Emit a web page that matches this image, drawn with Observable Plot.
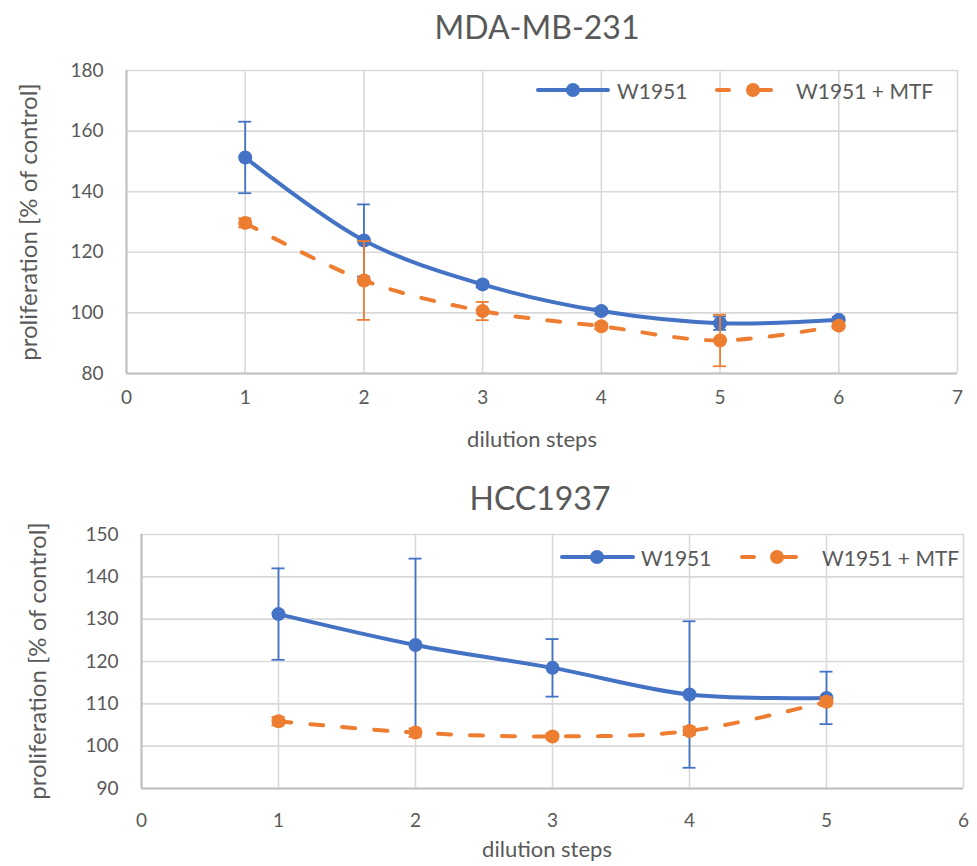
<!DOCTYPE html>
<html>
<head>
<meta charset="utf-8">
<script src="https://cdn.jsdelivr.net/npm/d3@7"></script>
<script src="https://cdn.jsdelivr.net/npm/@observablehq/plot@0.6"></script>
<style>
  html, body { margin: 0; padding: 0; background: #fff; }
  #page { position: relative; width: 977px; height: 866px; font-family: Lato, "Open Sans", sans-serif; color: #595959; overflow: hidden; }
  .abs { position: absolute; line-height: 1; white-space: nowrap; }
  .title { font-size: 32px; transform: translate(-50%, -50%); }
  .xlab { font-size: 22px; transform: translate(-50%, -50%); }
  .ylab { font-size: 24px; transform: translate(-50%, -50%) rotate(-90deg); }
  .legend { font-size: 21px; display: flex; align-items: center; }
  .chart { position: absolute; left: 0; }
</style>
</head>
<body>
<div id="page"></div>
<script>
// ---------- data ----------
const stepsMDA = [1, 2, 3, 4, 5, 6];
const w1951MDA = [151.3, 123.9, 109.4, 100.6, 96.6, 97.7];
const w1951MDAErr = [11.8, 11.9, 1.0, 1.0, 2.2, 1.0];
const mtfMDA = [129.7, 110.7, 100.6, 95.6, 90.9, 95.8];
const mtfMDAErr = [1.5, 13.0, 3.0, 1.0, 8.5, 1.0];

const stepsHCC = [1, 2, 3, 4, 5];
const w1951HCC = [131.2, 123.9, 118.5, 112.2, 111.4];
const w1951HCCErr = [10.8, 20.4, 6.8, 17.3, 6.2];
const mtfHCC = [105.9, 103.2, 102.3, 103.6, 110.5];
const mtfHCCErr = [1.0, 1.0, 0.7, 1.0, 1.0];

const xTicksMDA = [0, 1, 2, 3, 4, 5, 6, 7];
const yTicksMDA = [80, 100, 120, 140, 160, 180];
const xTicksHCC = [0, 1, 2, 3, 4, 5, 6];
const yTicksHCC = [90, 100, 110, 120, 130, 140, 150];

const seriesNames = ["W1951", "W1951 + MTF"];
const chartTitles = ["MDA-MB-231", "HCC1937"];
const xLabel = "dilution steps";
const yLabel = "proliferation [% of control]";

const BLUE = "#4472C4", ORANGE = "#ED7D31";
const DASH = "13,19";

function rows(xs, ys, es) { return xs.map((x, i) => ({x, y: ys[i], e: es[i]})); }

function seriesMarks(data, color, dash) {
  return [
    Plot.line(data, {x: "x", y: "y", curve: "catmull-rom", stroke: color, strokeWidth: 4,
      strokeDasharray: dash, strokeLinecap: "round"}),
    Plot.ruleX(data, {x: "x", y1: d => d.y - d.e, y2: d => d.y + d.e, stroke: color, strokeWidth: 1.8}),
    Plot.ruleY(data, {x1: "x", x2: "x", y: d => d.y + d.e, insetLeft: -6.5, insetRight: -6.5, stroke: color, strokeWidth: 1.8}),
    Plot.ruleY(data, {x1: "x", x2: "x", y: d => d.y - d.e, insetLeft: -6.5, insetRight: -6.5, stroke: color, strokeWidth: 1.8}),
    Plot.dot(data, {x: "x", y: "y", r: 7, fill: color, stroke: "none"})
  ];
}

function makeChart(o) {
  return Plot.plot({
    width: 977, height: o.height,
    marginLeft: o.ml, marginRight: o.mr, marginTop: o.mt, marginBottom: o.mb,
    style: {fontFamily: "Lato, 'Open Sans', sans-serif", fontSize: "19px", color: "#595959", background: "white"},
    x: {domain: [o.xTicks[0], o.xTicks[o.xTicks.length - 1]], ticks: o.xTicks, tickFormat: d => String(d), tickSize: 0, tickPadding: o.xPad, label: null},
    y: {domain: [o.yTicks[0], o.yTicks[o.yTicks.length - 1]], ticks: o.yTicks, tickFormat: d => String(d), tickSize: 0, tickPadding: 23, label: null},
    marks: [
      Plot.gridX(o.xTicks, {stroke: "#d9d9d9", strokeOpacity: 1, strokeWidth: 1.6}),
      Plot.gridY(o.yTicks, {stroke: "#d9d9d9", strokeOpacity: 1, strokeWidth: 1.6}),
      Plot.ruleX([o.xTicks[0]], {stroke: "#bfbfbf", strokeWidth: 2}),
      Plot.ruleY([o.yTicks[0]], {stroke: "#bfbfbf", strokeWidth: 2}),
      ...seriesMarks(o.a, BLUE, null),
      ...seriesMarks(o.b, ORANGE, DASH)
    ]
  });
}

const page = document.getElementById("page");
function addText(cls, text, x, y) {
  const d = document.createElement("div");
  d.className = "abs " + cls;
  d.textContent = text;
  d.style.left = x + "px"; d.style.top = y + "px";
  page.appendChild(d);
}
function addLegend(y, items) {
  items.forEach(it => {
    const ns = "http://www.w3.org/2000/svg";
    const svg = document.createElementNS(ns, "svg");
    const w = it.x2 - it.x1;
    svg.setAttribute("width", w + 8); svg.setAttribute("height", 20);
    svg.style.position = "absolute"; svg.style.left = (it.x1 - 4) + "px"; svg.style.top = (y - 10) + "px";
    const l = document.createElementNS(ns, "line");
    l.setAttribute("x1", 4); l.setAttribute("x2", w + 4); l.setAttribute("y1", 10); l.setAttribute("y2", 10);
    l.setAttribute("stroke", it.color); l.setAttribute("stroke-width", 4); l.setAttribute("stroke-linecap", "round");
    if (it.dash) l.setAttribute("stroke-dasharray", "12,30");
    svg.appendChild(l);
    const c = document.createElementNS(ns, "circle");
    c.setAttribute("cx", it.mx - it.x1 + 4); c.setAttribute("cy", 10); c.setAttribute("r", 7); c.setAttribute("fill", it.color);
    svg.appendChild(c);
    page.appendChild(svg);
    const t = document.createElement("div");
    t.className = "abs legend"; t.textContent = it.label;
    t.style.left = it.tx + "px"; t.style.top = y + "px"; t.style.transform = "translateY(-50%)";
    page.appendChild(t);
  });
}

// Chart 1
const c1 = makeChart({height: 460, ml: 126, mr: 20, mt: 70, mb: 87, xPad: 17,
  xTicks: xTicksMDA, yTicks: yTicksMDA,
  a: rows(stepsMDA, w1951MDA, w1951MDAErr), b: rows(stepsMDA, mtfMDA, mtfMDAErr)});
c1.classList.add("chart"); c1.style.top = "0px";
page.appendChild(c1);

// Chart 2
const c2 = makeChart({height: 406, ml: 141, mr: 14, mt: 74, mb: 78, xPad: 25,
  xTicks: xTicksHCC, yTicks: yTicksHCC,
  a: rows(stepsHCC, w1951HCC, w1951HCCErr), b: rows(stepsHCC, mtfHCC, mtfHCCErr)});
c2.classList.add("chart"); c2.style.top = "460px";
page.appendChild(c2);

addText("title", chartTitles[0], 537, 27);
addText("title", chartTitles[1], 540, 498);
addText("xlab", xLabel, 532, 439);
addText("xlab", xLabel, 547, 849);
addText("ylab", yLabel, 28, 221.5);
addText("ylab", yLabel, 37, 661);

addLegend(90, [
  {x1: 538, x2: 608, mx: 573, tx: 617, color: BLUE, dash: false, label: seriesNames[0]},
  {x1: 717, x2: 775, mx: 753, tx: 796, color: ORANGE, dash: true, label: seriesNames[1]}
]);
addLegend(557, [
  {x1: 562, x2: 633, mx: 597, tx: 641, color: BLUE, dash: false, label: seriesNames[0]},
  {x1: 742, x2: 813, mx: 777, tx: 822, color: ORANGE, dash: true, label: seriesNames[1]}
]);
</script>
</body>
</html>
